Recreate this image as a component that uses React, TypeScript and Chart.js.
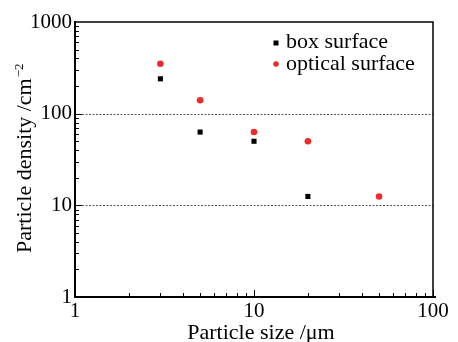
import React, { useEffect, useRef } from 'react';
import { Chart, registerables } from 'chart.js';

Chart.register(...registerables);

const boxSizes = [3, 5, 10, 20];
const boxDensity = [240, 63, 50, 12.5];
const opticalSizes = [3, 5, 10, 20, 50];
const opticalDensity = [350, 140, 63, 50, 12.5];
const xMajorTicks = [1, 10, 100];
const yMajorTicks = [1, 10, 100, 1000];
const gridValues = [10, 100];
const seriesLabels = ['box surface', 'optical surface'];
const xTitle = 'Particle size /\u03bcm';
const yTitle = 'Particle density /cm';
const yTitleSup = '\u22122';

const FONT = "'Liberation Serif', 'Times New Roman', serif";
const RED = '#ee2a2a';

const decoPlugin = {
  id: 'deco',
  beforeDatasetsDraw(chart: any) {
    const { ctx, chartArea } = chart;
    const y = chart.scales.y;
    ctx.save();
    ctx.strokeStyle = '#555';
    ctx.lineWidth = 1;
    ctx.setLineDash([2, 1.5]);
    gridValues.forEach((v) => {
      const py = Math.round(y.getPixelForValue(v)) + 0.5;
      ctx.beginPath();
      ctx.moveTo(chartArea.left, py);
      ctx.lineTo(chartArea.right, py);
      ctx.stroke();
    });
    ctx.restore();
  },
  afterDatasetsDraw(chart: any) {
    const { ctx, chartArea } = chart;
    const x = chart.scales.x;
    const y = chart.scales.y;
    const { left, right, top, bottom } = chartArea;
    ctx.save();
    ctx.strokeStyle = '#000';
    ctx.lineWidth = 1;
    // y ticks
    yMajorTicks.slice(0, -1).forEach((d) => {
      for (let k = 2; k <= 9; k++) {
        const py = Math.round(y.getPixelForValue(d * k)) + 0.5;
        ctx.beginPath();
        ctx.moveTo(left, py);
        ctx.lineTo(left + 4, py);
        ctx.stroke();
      }
    });
    yMajorTicks.slice(1, -1).forEach((v) => {
      const py = Math.round(y.getPixelForValue(v)) + 0.5;
      ctx.beginPath();
      ctx.moveTo(left, py);
      ctx.lineTo(left + 7, py);
      ctx.stroke();
    });
    // x ticks
    xMajorTicks.slice(0, -1).forEach((d) => {
      for (let k = 2; k <= 9; k++) {
        const px = Math.round(x.getPixelForValue(d * k)) + 0.5;
        ctx.beginPath();
        ctx.moveTo(px, bottom);
        ctx.lineTo(px, bottom - 4);
        ctx.stroke();
      }
    });
    xMajorTicks.slice(1).forEach((v) => {
      const px = Math.round(x.getPixelForValue(v)) + 0.5;
      ctx.beginPath();
      ctx.moveTo(px, bottom);
      ctx.lineTo(px, bottom - 7);
      ctx.stroke();
    });
    // frame
    ctx.lineWidth = 1.5;
    ctx.beginPath();
    ctx.moveTo(left, top);
    ctx.lineTo(right, top);
    ctx.lineTo(right, bottom);
    ctx.stroke();
    ctx.lineWidth = 2;
    ctx.beginPath();
    ctx.moveTo(left, top - 1);
    ctx.lineTo(left, bottom);
    ctx.lineTo(right + 3, bottom);
    ctx.stroke();

    // legend
    const ds = chart.data.datasets;
    ctx.font = `22px ${FONT}`;
    ctx.textBaseline = 'alphabetic';
    ctx.textAlign = 'left';
    ctx.fillStyle = ds[0].backgroundColor;
    ctx.fillRect(273.5, 40.5, 5, 5);
    ctx.fillStyle = '#000';
    ctx.fillText(ds[0].label, 286, 48);
    ctx.fillStyle = ds[1].backgroundColor;
    ctx.beginPath();
    ctx.arc(276, 64, 2.8, 0, Math.PI * 2);
    ctx.fill();
    ctx.fillStyle = '#000';
    ctx.fillText(ds[1].label, 286, 70);

    // axis titles
    ctx.textAlign = 'center';
    ctx.fillText(xTitle, 261, 339);
    ctx.save();
    ctx.translate(31, 253);
    ctx.rotate(-Math.PI / 2);
    ctx.textAlign = 'left';
    ctx.font = `22px ${FONT}`;
    ctx.fillText(yTitle, 0, 0);
    const w = ctx.measureText(yTitle).width;
    ctx.font = `13px ${FONT}`;
    ctx.fillText(yTitleSup, w + 1, -8);
    ctx.restore();
    ctx.restore();
  },
};

export default function App() {
  const ref = useRef<HTMLCanvasElement | null>(null);
  useEffect(() => {
    document.body.style.margin = '0';
    if (!ref.current) return;
    const chart = new Chart(ref.current, {
      type: 'scatter',
      data: {
        datasets: [
          {
            label: seriesLabels[0],
            data: boxSizes.map((s, i) => ({ x: s, y: boxDensity[i] })),
            pointStyle: 'rect',
            pointRadius: 3.6,
            backgroundColor: '#000',
            borderWidth: 0,
          },
          {
            label: seriesLabels[1],
            data: opticalSizes.map((s, i) => ({ x: s, y: opticalDensity[i] })),
            pointStyle: 'circle',
            pointRadius: 3.3,
            backgroundColor: RED,
            borderWidth: 0,
          },
        ],
      },
      plugins: [decoPlugin],
      options: {
        animation: false,
        responsive: false,
        devicePixelRatio: 1,
        layout: { padding: { top: 22, right: 25, left: 0, bottom: 0 } },
        plugins: { legend: { display: false }, tooltip: { enabled: false } },
        scales: {
          x: {
            type: 'logarithmic',
            min: 1,
            max: 100,
            afterBuildTicks: (s: any) => {
              s.ticks = xMajorTicks.map((v) => ({ value: v }));
            },
            afterFit: (s: any) => {
              s.height = 45;
            },
            grid: { display: false, drawTicks: false },
            border: { display: false },
            ticks: {
              autoSkip: false,
              maxRotation: 0,
              padding: 2,
              color: '#000',
              font: { family: FONT, size: 21 },
              callback: (v: any) => String(v),
            },
          },
          y: {
            type: 'logarithmic',
            min: 1,
            max: 1000,
            afterBuildTicks: (s: any) => {
              s.ticks = yMajorTicks.map((v) => ({ value: v }));
            },
            afterFit: (s: any) => {
              s.width = 75;
            },
            grid: { display: false, drawTicks: false },
            border: { display: false },
            ticks: {
              autoSkip: false,
              padding: 3,
              color: '#000',
              font: { family: FONT, size: 21 },
              callback: (v: any) => String(v),
            },
          },
        },
      },
    });
    return () => chart.destroy();
  }, []);
  return (
    <div style={{ width: 458, height: 342 }}>
      <canvas ref={ref} width={458} height={342} />
    </div>
  );
}
